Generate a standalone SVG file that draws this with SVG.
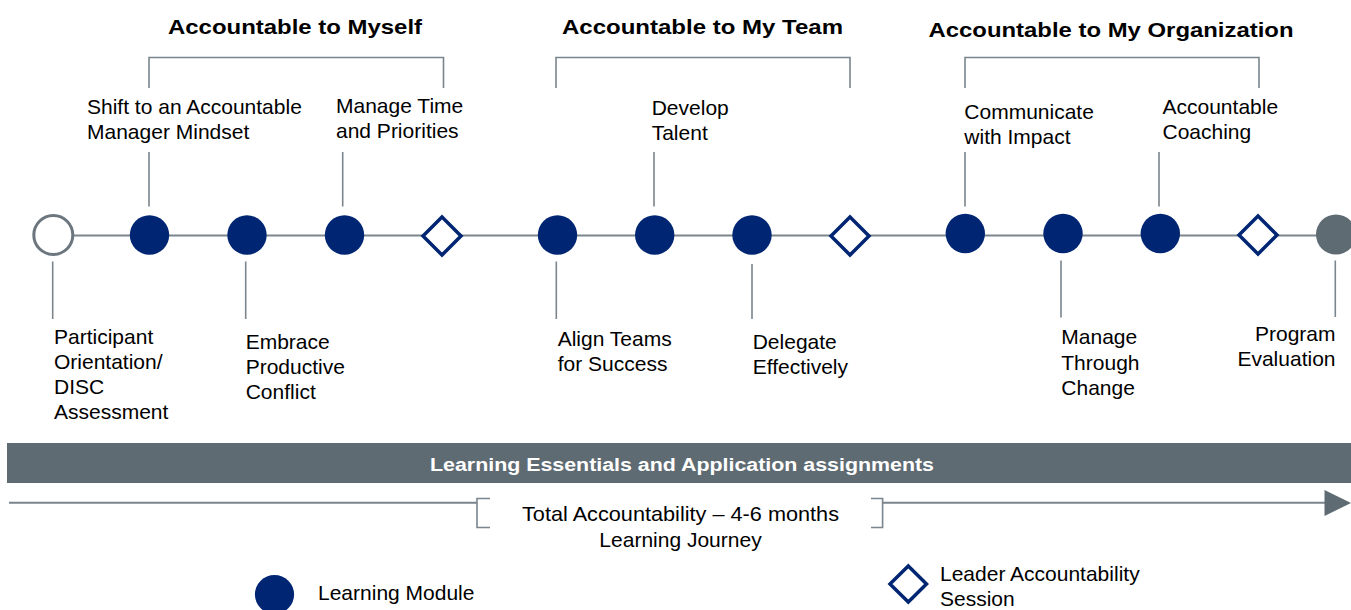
<svg xmlns="http://www.w3.org/2000/svg" width="1351" height="610" viewBox="0 0 1351 610">
  <style>
    .t { font-family: "Liberation Sans", Arial, sans-serif; font-size: 21px; fill: #000; }
    .h { font-family: "Liberation Sans", Arial, sans-serif; font-size: 20.5px; font-weight: bold; fill: #000; }
    .bar { font-family: "Liberation Sans", Arial, sans-serif; font-size: 17.5px; font-weight: bold; fill: #fff; }
    .ln { stroke: #7a858d; stroke-width: 1.6; fill: none; }
    .mod { fill: #002673; }
    .las { fill: #fff; stroke: #002673; stroke-width: 3.5; stroke-linejoin: miter; }
  </style>
  <defs>
    <path id="dia" d="M0,-19 L19,0 L0,19 L-19,0 Z"/>
  </defs>
  <rect width="1351" height="610" fill="#fff"/>

  <!-- section titles -->
  <g id="titles">
    <text class="h" x="168" y="34" textLength="254" lengthAdjust="spacingAndGlyphs">Accountable to Myself</text>
    <text class="h" x="562" y="33.5" textLength="281" lengthAdjust="spacingAndGlyphs">Accountable to My Team</text>
    <text class="h" x="928.5" y="37" textLength="365" lengthAdjust="spacingAndGlyphs">Accountable to My Organization</text>
  </g>

  <!-- connectors: timeline, brackets and ticks -->
  <g id="connectors">
    <line x1="53" y1="235.5" x2="1336" y2="235.5" stroke="#7a858d" stroke-width="2"/>
    <path class="ln" d="M149,88 V57.5 H443.5 V88"/>
    <path class="ln" d="M556,88 V57.5 H850 V88"/>
    <path class="ln" d="M965,88 V57.5 H1259 V88"/>
    <line class="ln" x1="149" y1="152" x2="149" y2="206.5"/>
    <line class="ln" x1="342.7" y1="152" x2="342.7" y2="206.5"/>
    <line class="ln" x1="654" y1="152" x2="654" y2="206.5"/>
    <line class="ln" x1="965" y1="152" x2="965" y2="206.5"/>
    <line class="ln" x1="1159" y1="152" x2="1159" y2="206.5"/>
    <line class="ln" x1="52.7" y1="261.5" x2="52.7" y2="319"/>
    <line class="ln" x1="245.7" y1="261.5" x2="245.7" y2="319"/>
    <line class="ln" x1="556.3" y1="261.5" x2="556.3" y2="319"/>
    <line class="ln" x1="752" y1="264" x2="752" y2="319"/>
    <line class="ln" x1="1061" y1="260.5" x2="1061" y2="317.5"/>
    <line class="ln" x1="1335.3" y1="260.5" x2="1335.3" y2="317"/>
  </g>

  <!-- timeline nodes -->
  <g id="n-orientation">
    <circle cx="53.3" cy="235" r="19.5" fill="#fff" stroke="#6b767e" stroke-width="3"/>
    <text class="t" x="54"><tspan x="54" y="344.3">Participant</tspan><tspan x="54" y="369.3">Orientation/</tspan><tspan x="54" y="394.3">DISC</tspan><tspan x="54" y="419.3">Assessment</tspan></text>
  </g>
  <g id="n-shift">
    <circle class="mod" cx="149.5" cy="235" r="19.7"/>
    <text class="t"><tspan x="87" y="114">Shift to an Accountable</tspan><tspan x="87" y="139">Manager Mindset</tspan></text>
  </g>
  <g id="n-embrace">
    <circle class="mod" cx="247" cy="235" r="19.7"/>
    <text class="t"><tspan x="245.7" y="349.3">Embrace</tspan><tspan x="245.7" y="374.3">Productive</tspan><tspan x="245.7" y="399.3">Conflict</tspan></text>
  </g>
  <g id="n-time">
    <circle class="mod" cx="344.5" cy="235" r="19.7"/>
    <text class="t"><tspan x="336" y="113">Manage Time</tspan><tspan x="336" y="137.5">and Priorities</tspan></text>
  </g>
  <g id="s-1">
    <use href="#dia" class="las" x="442" y="236"/>
  </g>
  <g id="n-align">
    <circle class="mod" cx="557.5" cy="235" r="19.7"/>
    <text class="t"><tspan x="557.7" y="346">Align Teams</tspan><tspan x="557.7" y="371">for Success</tspan></text>
  </g>
  <g id="n-develop">
    <circle class="mod" cx="654.7" cy="235" r="19.7"/>
    <text class="t"><tspan x="651.7" y="115">Develop</tspan><tspan x="651.7" y="139.5">Talent</tspan></text>
  </g>
  <g id="n-delegate">
    <circle class="mod" cx="752" cy="235" r="19.7"/>
    <text class="t"><tspan x="752.7" y="349">Delegate</tspan><tspan x="752.7" y="374">Effectively</tspan></text>
  </g>
  <g id="s-2">
    <use href="#dia" class="las" x="850" y="236"/>
  </g>
  <g id="n-communicate">
    <circle class="mod" cx="965.3" cy="233.5" r="19.7"/>
    <text class="t"><tspan x="964.3" y="119">Communicate</tspan><tspan x="964.3" y="144">with Impact</tspan></text>
  </g>
  <g id="n-change">
    <circle class="mod" cx="1063" cy="233.5" r="19.7"/>
    <text class="t"><tspan x="1061.3" y="344.3">Manage</tspan><tspan x="1061.3" y="370">Through</tspan><tspan x="1061.3" y="395">Change</tspan></text>
  </g>
  <g id="n-coaching">
    <circle class="mod" cx="1160.3" cy="233.5" r="19.7"/>
    <text class="t"><tspan x="1162.5" y="114">Accountable</tspan><tspan x="1162.5" y="139">Coaching</tspan></text>
  </g>
  <g id="s-3">
    <use href="#dia" class="las" x="1258" y="235"/>
  </g>
  <g id="n-evaluation">
    <circle cx="1336" cy="234.5" r="20" fill="#5f6b73"/>
    <text class="t" text-anchor="end"><tspan x="1335.5" y="341">Program</tspan><tspan x="1335.5" y="366">Evaluation</tspan></text>
  </g>

  <!-- learning essentials bar -->
  <g id="bar">
    <rect x="7" y="443" width="1344" height="40" fill="#5f6b73"/>
    <text class="bar" x="430" y="471" textLength="504" lengthAdjust="spacingAndGlyphs">Learning Essentials and Application assignments</text>
  </g>

  <!-- duration arrow -->
  <g id="duration">
    <line x1="9" y1="502.7" x2="477" y2="502.7" stroke="#7a858d" stroke-width="2"/>
    <path class="ln" d="M490,498.5 H477 V527.5 H490"/>
    <path class="ln" d="M871,498.5 H882.6 V527.5 H871"/>
    <line x1="882.6" y1="502.7" x2="1326" y2="502.7" stroke="#7a858d" stroke-width="2"/>
    <polygon points="1324.5,490 1351,503 1324.5,516" fill="#5f6b73"/>
    <text class="t" text-anchor="middle"><tspan x="680.5" y="520.5" textLength="317" lengthAdjust="spacingAndGlyphs">Total Accountability – 4-6 months</tspan><tspan x="680.5" y="546.5">Learning Journey</tspan></text>
  </g>

  <!-- legend -->
  <g id="legend-module">
    <circle class="mod" cx="274.5" cy="594.5" r="19.6"/>
    <text class="t" x="318" y="600">Learning Module</text>
  </g>
  <g id="legend-session">
    <path d="M908.3,566 L926.5,584 L908.3,602 L890,584 Z" class="las"/>
    <text class="t"><tspan x="940" y="580.5">Leader Accountability</tspan><tspan x="940" y="605.5">Session</tspan></text>
  </g>
</svg>
